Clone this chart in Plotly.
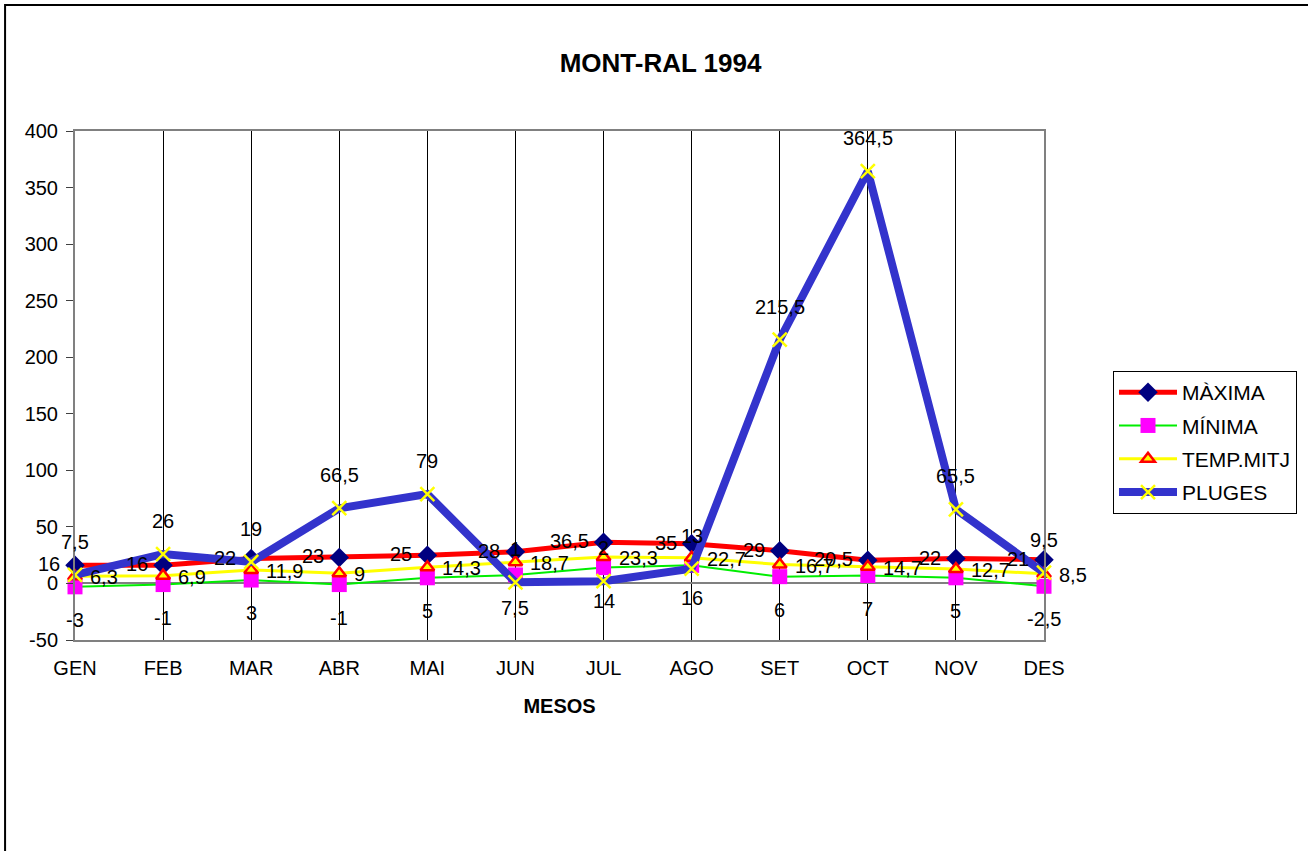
import plotly.graph_objects as go

months = ["GEN", "FEB", "MAR", "ABR", "MAI", "JUN", "JUL", "AGO", "SET", "OCT", "NOV", "DES"]
maxima = [16, 16, 22, 23, 25, 28, 36.5, 35, 29, 20.5, 22, 21]
minima = [-3, -1, 3, -1, 5, 7.5, 14, 16, 6, 7, 5, -2.5]
temp_mitj = [6.3, 6.9, 11.9, 9, 14.3, 18.7, 23.3, 22.7, 16.7, 14.7, 12.7, 8.5]
pluges = [7.5, 26, 19, 66.5, 79, 1, 2, 13, 215.5, 364.5, 65.5, 9.5]

y_tickvals = [-50, 0, 50, 100, 150, 200, 250, 300, 350, 400]
y_ticktext = ["-50", "0", "50", "100", "150", "200", "250", "300", "350", "400"]

FONT = "Liberation Sans, Arial, sans-serif"


def fmt(v):
    s = ("%g" % v)
    return s.replace(".", ",")


fig = go.Figure()

series = [
    dict(name="MÀXIMA", y=maxima, line=dict(color="#FF0000", width=5),
         marker=dict(symbol="diamond", size=15, color="#000080")),
    dict(name="MÍNIMA", y=minima, line=dict(color="#00EE00", width=2),
         marker=dict(symbol="square", size=15, color="#FF00FF")),
    dict(name="TEMP.MITJ", y=temp_mitj, line=dict(color="#FFFF00", width=3),
         marker=dict(symbol="triangle-up", size=12, color="#FFFF00",
                     line=dict(color="#FF0000", width=2.5))),
    dict(name="PLUGES", y=pluges, line=dict(color="#3333CC", width=8),
         marker=dict(symbol="x-thin", size=14, color="#FFFF00",
                     line=dict(color="#FFFF00", width=2.5))),
]

for i, s in enumerate(series):
    fig.add_trace(go.Scatter(
        x=months, y=s["y"], name=s["name"], mode="lines+markers",
        line=s["line"], marker=s["marker"], cliponaxis=False,
        legendgroup=s["name"],
    ))

# data labels
label_specs = [
    (maxima, dict(xanchor="right", yanchor="middle", xshift=-13, yshift=1)),
    (minima, dict(xanchor="center", yanchor="middle", yshift=-33)),
    (temp_mitj, dict(xanchor="left", yanchor="middle", xshift=13, yshift=-1)),
    (pluges, dict(xanchor="center", yanchor="middle", yshift=33)),
]
for vals, opts in label_specs:
    for m, v in zip(months, vals):
        fig.add_annotation(x=m, y=v, xref="x", yref="y", text=fmt(v),
                           showarrow=False, font=dict(family=FONT, size=20, color="black"),
                           **opts)

L, R, T, B = 75, 1045, 131, 640
W, H = 1308, 851
pw, ph = R - L, B - T

# outer chart border
fig.add_shape(type="rect", xref="paper", yref="paper",
              x0=(5 - L) / pw, x1=(W + 10 - L) / pw,
              y0=(B - (H + 10)) / ph, y1=(B - 5) / ph,
              line=dict(color="black", width=2), layer="below")

fig.update_layout(
    width=W, height=H,
    margin=dict(l=L, r=W - R, t=T, b=H - B, pad=0),
    paper_bgcolor="white", plot_bgcolor="white",
    font=dict(family=FONT, size=20, color="black"),
    title=dict(text="<b>MONT-RAL 1994</b>", x=0.505, xanchor="center",
               y=1 - 63 / H, yanchor="middle", xref="container", yref="container",
               font=dict(family=FONT, size=26, color="black")),
    showlegend=True,
    legend=dict(x=(1113 - L) / pw, y=(B - 371) / ph, xanchor="left", yanchor="top",
                bgcolor="white", bordercolor="black", borderwidth=1,
                font=dict(family=FONT, size=21, color="black"),
                itemwidth=58, tracegroupgap=3, traceorder="grouped"),
    xaxis=dict(type="category", categoryorder="array", categoryarray=months,
               range=[0, 11], showgrid=True, gridcolor="#000000", gridwidth=1,
               showline=True, linecolor="#808080", linewidth=2, mirror=True,
               ticks="", ticklabelstandoff=9, zeroline=False,
               title=dict(text="<b>MESOS</b>", standoff=21,
                          font=dict(family=FONT, size=20, color="black"))),
    yaxis=dict(range=[-50, 400], tickvals=y_tickvals, ticktext=y_ticktext,
               showgrid=False, showline=True, linecolor="#808080", linewidth=2,
               mirror=True, ticks="outside", ticklen=7, tickcolor="#404040",
               tickwidth=1, ticklabelstandoff=4,
               zeroline=True, zerolinecolor="#808080", zerolinewidth=2),
)

fig.write_html("out.html", config={"displayModeBar": False},
               post_script="document.body.style.margin='0';")
